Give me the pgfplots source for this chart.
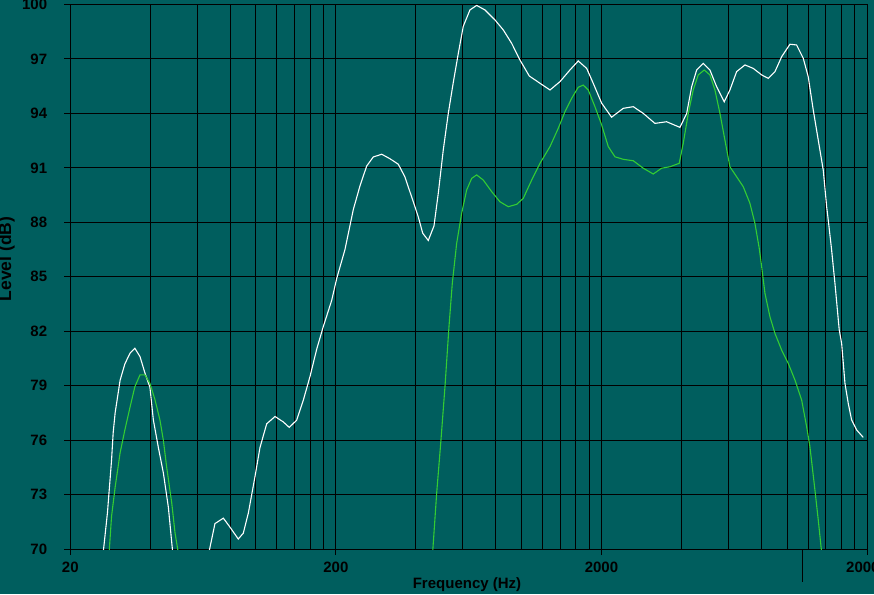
\documentclass[border=0pt]{standalone}
\usepackage{fontspec}
\setmainfont{Liberation Sans}
\usepackage{pgfplots}
\pgfplotsset{compat=1.18}

\definecolor{scopebg}{RGB}{0,94,94}
\definecolor{trace}{RGB}{51,204,51}
\newcommand{\lblfont}{\bfseries\fontsize{15}{18}\selectfont}

\begin{document}
\begin{tikzpicture}[x=1pt,y=1pt]
\fill[scopebg] (0,0) rectangle (874,594);
\begin{axis}[
  at={(70.3pt,45pt)}, anchor=south west,
  width=796.7pt, height=544.5pt, scale only axis,
  xmode=log,
  xmin=20, xmax=20000, ymin=70, ymax=100,
  xtick={20,200,2000,20000},
  xticklabels={20,200,2000,20000},
  minor xtick={40,60,80,100,120,140,160,180,400,600,800,1000,1200,1400,1600,1800,4000,6000,8000,10000,12000,14000,16000,18000},
  ytick={70,73,...,100},
  grid=both,
  major grid style={black, line width=1pt},
  minor grid style={black, line width=1pt},
  axis line style={black, line width=1pt},
  tick style={black, line width=1pt},
  tick align=outside, tick pos=left,
  major tick length=6pt, minor tick length=0pt,
  /pgf/number format/assume math mode=true,
  tick label style={font=\lblfont, text=black, inner sep=0pt},
  yticklabel style={anchor=east, xshift=-17pt},
  xticklabel style={anchor=north, yshift=-7pt},
  unbounded coords=jump,
]
% white trace
\addplot[white, line width=1.1pt] coordinates {
(26.6,69.8) (27.6,72.0) (28.6,74.9) (29.0,76.4) (29.5,77.5) (30.8,79.3) (32.1,80.2) (33.6,80.8) (35.0,81.06) (36.6,80.6) (38.2,79.7) (39.9,78.9) (41.1,77.1) (42.9,75.6) (44.8,74.2) (46.8,72.3) (48.6,69.8)
(55,nan)
(66.5,69.8) (70.1,71.4) (75.4,71.7) (79.9,71.2) (85.8,70.55) (89.6,70.87) (93.6,71.97) (99.2,74.0) (103.6,75.6) (109.8,76.9) (118,77.3) (126.8,77.0) (133.5,76.7) (142.4,77.1) (150.8,78.2) (159.8,79.5) (169.3,81.0) (179.3,82.25) (192.9,83.7) (201.4,84.9) (216.4,86.5) (232.6,88.7) (246.4,90.0) (261.2,91.1) (276.6,91.6) (297.6,91.75) (319.8,91.5) (343.6,91.2) (364,90.5) (385.8,89.4) (408.6,88.3) (424.6,87.4) (445.6,87.0) (468.2,87.8) (486,89.6) (507.6,92.0) (530,94.0) (553.4,95.7) (578,97.3) (603.6,98.8) (639.6,99.7) (677.8,99.95) (728.4,99.7) (794.4,99.15) (853.8,98.6) (918.2,97.86) (986.8,96.94) (1069.8,96.06) (1173.8,95.66) (1280,95.29) (1396,95.75) (1521.6,96.39) (1635.6,96.89) (1759.6,96.48) (1862.6,95.66) (2004,94.56) (2184,93.79) (2416,94.28) (2636,94.37) (2874,94.0) (3180,93.45) (3520,93.54) (3950,93.23) (4188,94.0) (4372,95.47) (4566,96.39) (4834,96.76) (5122,96.39) (5430,95.47) (5800,94.64) (6092,95.29) (6456,96.30) (6940,96.67) (7456,96.48) (8022,96.12) (8492,95.93) (9002,96.30) (9540,97.12) (10250,97.81) (10862,97.77) (11504,97.04) (12014,96.02) (12546,94.19) (13104,92.53) (13684,90.88) (14094,88.86) (14290,88.13) (14716,86.47) (15144,84.64) (15718,82.07) (16050,81.33) (16516,79.13) (16994,78.03) (17500,77.11) (18274,76.56) (19352,76.15)
};
% green trace
\addplot[trace, line width=1.1pt] coordinates {
(28.0,69.8) (28.6,71.8) (29.5,73.4) (30.8,75.3) (32.1,76.56) (33.6,77.84) (35.0,78.94) (36.6,79.59) (38.2,79.59) (39.9,79.13) (41.7,78.21) (43.5,77.11) (44.8,76.0) (46.1,74.53) (48.2,72.52) (49.6,70.87) (51.0,69.8)
(100,nan)
(462.8,69.8) (479.2,73.07) (497.4,76.0) (515,78.94) (533.2,82.25) (548.8,84.64) (570,86.84) (595.2,88.5) (621.6,89.78) (649.2,90.42) (677.8,90.61) (717.8,90.33) (772.2,89.69) (829.8,89.13) (891.6,88.86) (958.8,88.99) (1015.4,89.32) (1092.4,90.33) (1173.8,91.25) (1280,92.17) (1375.4,93.18) (1457.4,94.09) (1544.6,94.83) (1635.6,95.44) (1708.4,95.56) (1784,95.29) (1890.4,94.37) (2004,93.36) (2122,92.17) (2248,91.61) (2416,91.47) (2636,91.39) (2874,90.98) (3134,90.66) (3370,90.98) (3622,91.06) (3926,91.25) (4064,92.35) (4246,94.0) (4432,95.29) (4630,96.12) (4876,96.39) (5122,96.12) (5350,95.29) (5588,94.0) (5834,92.53) (6092,91.06) (6456,90.51) (6838,89.96) (7246,89.05) (7568,87.94) (7856,86.57) (8022,85.55) (8254,84.09) (8618,82.8) (9002,81.88) (9540,80.96) (10100,80.23) (10706,79.31) (11346,78.21) (11848,76.74) (12190,75.64) (12732,73.25) (13104,71.6) (13496,69.8)
};
\end{axis}
\draw[black, line width=1pt] (802,44) -- (802,12);
\node[font=\lblfont, anchor=base, inner sep=0pt] at (467,5.7) {Frequency (Hz)};
\node[font=\bfseries\fontsize{17.5}{20}\selectfont, rotate=90, anchor=base, inner sep=0pt] at (11,335) {Level (dB)};
\pgfresetboundingbox
\useasboundingbox (0,0) rectangle (874,594);
\end{tikzpicture}
\end{document}
